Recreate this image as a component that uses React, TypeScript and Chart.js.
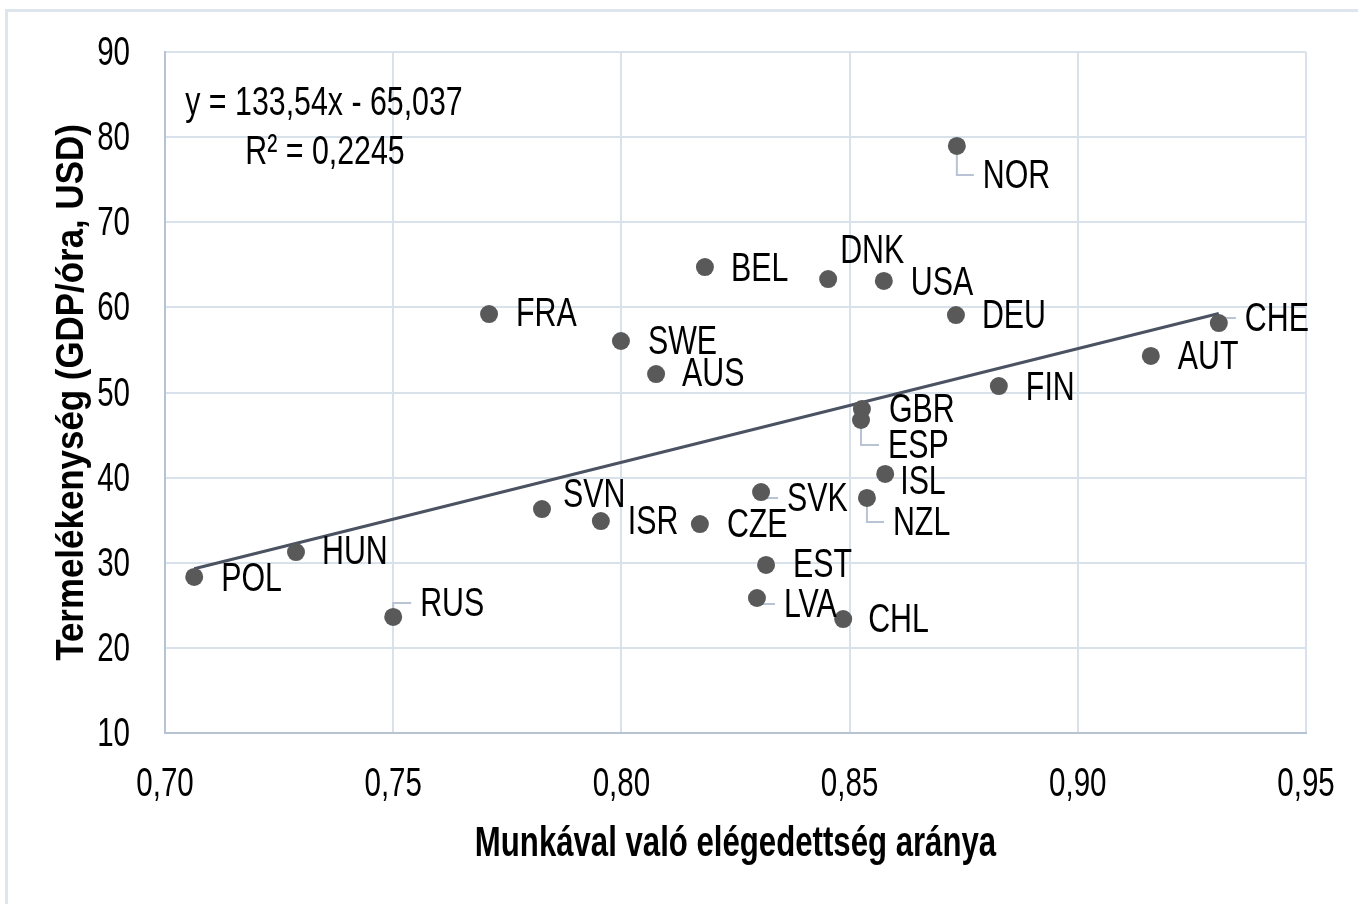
import React, { useEffect, useRef } from "react";
import { Chart, registerables } from "chart.js";

Chart.register(...registerables);

// ---- data ----
const countries = ["POL", "HUN", "RUS", "FRA", "SVN", "ISR", "SWE", "AUS", "BEL", "CZE", "SVK", "EST", "LVA", "DNK", "CHL", "USA", "GBR", "ESP", "ISL", "NZL", "NOR", "DEU", "FIN", "AUT", "CHE"];
const satisfaction = [0.7064, 0.7287, 0.75, 0.771, 0.7826, 0.7955, 0.7999, 0.8076, 0.8183, 0.8172, 0.8306, 0.8317, 0.8297, 0.8453, 0.8486, 0.8575, 0.8527, 0.8525, 0.8578, 0.8538, 0.8735, 0.8733, 0.8827, 0.916, 0.9309];
const productivity = [28.33, 31.26, 23.63, 59.22, 36.31, 34.9, 56.05, 52.17, 64.74, 34.55, 38.31, 29.74, 25.86, 63.33, 23.39, 63.1, 48.06, 46.77, 40.43, 37.61, 78.96, 59.1, 50.76, 54.29, 58.16];
const trendSlope = 133.54;
const trendIntercept = -65.037;
const trendText = ["y = 133,54x - 65,037", "R² = 0,2245"];
const xTitle = "Munkával való elégedettség aránya";
const yTitle = "Termelékenység (GDP/óra, USD)";

// label placement (pixel offsets from the point) and leader flags
const labelDx = [27, 26, 27, 27, 21, 27, 27, 26, 26, 27, 26, 27, 27, 12, 25, 27, 27, 27, 15, 26, 26, 26, 27, 27, 26];
const labelDy = [1, -1, -14, -1, -15, 0, 0, -1, 1, 0, 6, -1, 6, -29, 0, 1, 0, 25, 7, 24, 29, 0, 1, 0, -5];
const labelLeader = [false, false, true, false, false, false, false, false, false, false, true, false, true, false, false, false, false, true, false, true, true, false, false, false, true];

const FONT = "'Liberation Sans', Arial, sans-serif";
const NARROW = 0.82;
const TALL = 1.12;

function narrowText(c: CanvasRenderingContext2D, text: string, x: number, y: number, align: CanvasTextAlign, sx = NARROW, sy = TALL) {
  c.save();
  c.translate(x, y);
  c.scale(sx, sy);
  c.textAlign = align;
  c.textBaseline = "alphabetic";
  c.fillText(text, 0, 0);
  c.restore();
}

export default function App() {
  const ref = useRef<HTMLCanvasElement>(null);
  useEffect(() => {
    document.body.style.margin = "0";
    const ctx = ref.current!.getContext("2d")!;
    const pts = satisfaction.map((x, i) => ({ x, y: productivity[i] }));
    const xmin = Math.min(...satisfaction);
    const xmax = Math.max(...satisfaction);
    const trend = [
      { x: xmin, y: trendSlope * xmin + trendIntercept },
      { x: xmax, y: trendSlope * xmax + trendIntercept },
    ];

    const decor = {
      id: "decor",
      beforeDatasetsDraw(chart: any) {
        const c = chart.ctx;
        const meta = chart.getDatasetMeta(0);
        c.save();
        c.strokeStyle = "#b8c4d3";
        c.lineWidth = 2;
        meta.data.forEach((el: any, i: number) => {
          if (!labelLeader[i]) return;
          const px = el.x, py = el.y;
          const lx = px + labelDx[i], ly = py + labelDy[i];
          c.beginPath();
          c.moveTo(px, py);
          c.lineTo(px, ly);
          c.lineTo(lx - 9, ly);
          c.stroke();
        });
        c.restore();
      },
      afterDatasetsDraw(chart: any) {
        const c = chart.ctx;
        const meta = chart.getDatasetMeta(0);
        c.save();
        c.fillStyle = "#000";
        c.font = `37px ${FONT}`;
        meta.data.forEach((el: any, i: number) => {
          narrowText(c, countries[i], el.x + labelDx[i], el.y + labelDy[i] + 13, "left");
        });
        c.restore();
      },
      afterDraw(chart: any) {
        const c = chart.ctx;
        const a = chart.chartArea;
        c.save();
        // outer frame
        c.strokeStyle = "#dfe5ed";
        c.lineWidth = 3;
        c.beginPath();
        c.moveTo(6.5, 904);
        c.lineTo(6.5, 10.5);
        c.lineTo(1358, 10.5);
        c.stroke();
        c.fillStyle = "#000";
        // tick labels from the scales
        c.font = `36px ${FONT}`;
        const xs = chart.scales.x;
        xs.ticks.forEach((t: any) => {
          const px = xs.getPixelForValue(t.value);
          narrowText(c, Number(t.value).toFixed(2).replace(".", ","), px, a.bottom + 63, "center");
        });
        const ys = chart.scales.y;
        ys.ticks.forEach((t: any) => {
          const py = ys.getPixelForValue(t.value);
          narrowText(c, String(t.value), a.left - 35, py + 13, "right");
        });
        // equation
        c.font = `37px ${FONT}`;
        narrowText(c, trendText[0], 324, 115, "center");
        narrowText(c, trendText[1], 325, 164, "center");
        // axis titles
        c.font = `bold 38px ${FONT}`;
        narrowText(c, xTitle, (a.left + a.right) / 2, 856, "center");
        c.translate(83, (a.top + a.bottom) / 2);
        c.rotate(-Math.PI / 2);
        narrowText(c, yTitle, 0, 0, "center", NARROW * TALL, 1);
        c.restore();
      },
    };

    const chart = new Chart(ctx, {
      type: "scatter",
      data: {
        datasets: [
          {
            data: pts,
            pointRadius: 9,
            pointHoverRadius: 9,
            backgroundColor: "#595959",
            borderWidth: 0,
            showLine: false,
          },
          {
            type: "line",
            data: trend,
            borderColor: "#4b5261",
            borderWidth: 3,
            pointRadius: 0,
            fill: false,
          } as any,
        ],
      },
      options: {
        animation: false,
        responsive: false,
        events: [],
        layout: { padding: { top: 52, right: 52, left: 0, bottom: 0 } },
        plugins: { legend: { display: false }, tooltip: { enabled: false } },
        scales: {
          x: {
            type: "linear",
            min: 0.7,
            max: 0.95,
            afterFit: (s: any) => { s.height = 171; },
            ticks: { stepSize: 0.05, display: false },
            grid: { color: "#d9e1ea", lineWidth: 2, drawTicks: false },
            border: { color: "#b7c3d3", width: 2 },
          },
          y: {
            min: 10,
            max: 90,
            afterFit: (s: any) => { s.width = 165; },
            ticks: { stepSize: 10, display: false },
            grid: { color: "#d9e1ea", lineWidth: 2, drawTicks: false },
            border: { color: "#b7c3d3", width: 2 },
          },
        },
      },
      plugins: [decor],
    });
    return () => chart.destroy();
  }, []);
  return (
    <div style={{ width: 1358, height: 904, background: "#fff" }}>
      <canvas ref={ref} width={1358} height={904} style={{ display: "block" }} />
    </div>
  );
}
